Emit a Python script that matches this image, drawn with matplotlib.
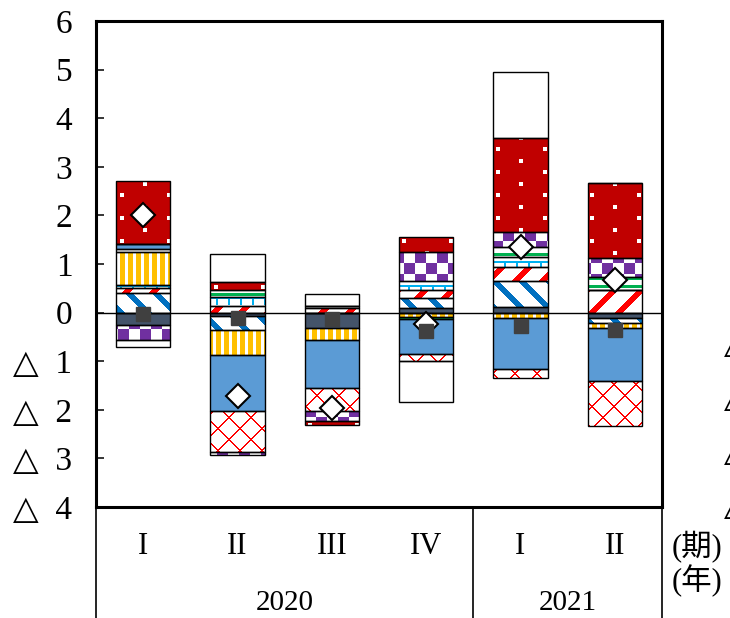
import numpy as np
import matplotlib
matplotlib.use('Agg')
import matplotlib.pyplot as plt
from matplotlib.colors import to_rgb
from matplotlib.path import Path

plt.rcParams['font.family'] = ['Liberation Serif', 'DejaVu Sans', 'Noto Sans CJK JP']

# quarters / years
quarters = ['I', 'II', 'III', 'IV', 'I', 'II']
years = ['2020', '2021']
year_centers = [1.5, 4.5]

# contributions (stack order from the zero line outwards)
slate = [-0.25, -0.06, -0.31, 0.10, 0.11, -0.11]
blue_diag = [0.40, -0.29, 0.00, 0.20, 0.53, -0.11]
red_diag = [0.10, 0.14, 0.10, 0.17, 0.30, 0.47]
cyan_grid = [0.07, 0.19, 0.04, 0.19, 0.20, 0.00]
yellow = [0.67, -0.53, -0.25, -0.09, -0.12, -0.09]
green = [0.07, 0.14, 0.00, -0.05, 0.21, 0.27]
blue = [0.11, -1.15, -0.99, -0.72, -1.04, -1.09]
red_lattice = [0.00, -0.84, -0.47, -0.14, -0.19, -0.94]
purple = [-0.32, -0.07, -0.22, 0.58, 0.31, 0.39]
dark_red = [1.29, 0.15, -0.08, 0.32, 1.94, 1.53]
other = [-0.13, 0.58, 0.24, -0.83, 1.35, 0.00]

total = [2.00, -1.72, -1.96, -0.23, 1.36, 0.67]
core = [-0.03, -0.11, -0.14, -0.38, -0.27, -0.36]

yticks = [-4, -3, -2, -1, 0, 1, 2, 3, 4, 5, 6]
ytick_labels = ['△  4', '△  3', '△  2', '△  1', '0', '1', '2', '3', '4', '5', '6']

fig = plt.figure(figsize=(7.3, 6.18), dpi=100)
ax = fig.add_axes([96 / 730, 111 / 618, 566 / 730, 486 / 618])
ax.set_xlim(-0.5, 5.5)
ax.set_ylim(-4, 6)

bb = ax.get_window_extent()
W, H = int(round(bb.width)), int(round(bb.height))
xx, yy = np.meshgrid(np.arange(W), np.arange(H))


def texture(mask, fg, bg='white'):
    img = np.empty((H, W, 3))
    img[:] = to_rgb(bg)
    img[mask] = to_rgb(fg)
    return img


none = np.zeros((H, W), dtype=bool)
dots = ((((xx % 47) < 4) & ((yy % 23) < 4))
        | ((((xx + 23) % 47) < 4) & (((yy + 12) % 23) < 4)))

series = [
    (slate, texture(none, 'white', '#44546A')),
    (blue_diag, texture(((xx - yy) % 27) < 8, '#0070C0')),
    (red_diag, texture(((xx + yy) % 27) < 8, '#FF0000')),
    (cyan_grid, texture(((yy % 12) < 2) | (((xx % 12) < 2) & ((yy % 12) < 8)), '#00B0F0')),
    (yellow, texture((xx % 8) < 5, '#FFC000')),
    (green, texture((yy % 8) < 3, '#00B050')),
    (blue, texture(none, 'white', '#5B9BD5')),
    (red_lattice, texture((((xx + yy) % 22) < 2) | (((xx - yy) % 22) < 2), '#FF0000')),
    (purple, texture(((xx // 11 + yy // 11) % 2) == 0, '#7030A0')),
    (dark_red, texture(dots, 'white', '#C00000')),
    (other, texture(none, 'white')),
]

x = np.arange(len(quarters))
pos = np.zeros(len(x))
neg = np.zeros(len(x))
for vals, img in series:
    vals = np.array(vals)
    bottom = np.where(vals >= 0, pos, neg)
    bars = ax.bar(x, vals, bottom=bottom, width=0.5725, facecolor='none',
                  edgecolor='black', linewidth=1.0, zorder=3)
    pos = pos + np.clip(vals, 0, None)
    neg = neg + np.clip(vals, None, 0)
    paths = [b.get_patch_transform().transform_path(b.get_path()) for b in bars]
    im = ax.imshow(img, extent=(-0.5, 5.5, -4, 6), aspect='auto',
                   interpolation='nearest', zorder=2)
    im.set_clip_path(Path.make_compound_path(*paths), ax.transData)

ax.set_xlim(-0.5, 5.5)
ax.set_ylim(-4, 6)
ax.axhline(0, color='black', linewidth=1.0, zorder=3.5)

ax.plot(x, total, linestyle='none', marker='D', markersize=12,
        markerfacecolor='white', markeredgecolor='black', markeredgewidth=1.5, zorder=4)
ax.plot(x, core, linestyle='none', marker='s', markersize=10,
        markerfacecolor='#404040', markeredgecolor='#404040', zorder=5)

for s in ax.spines.values():
    s.set_linewidth(2.2)
ax.set_xticks([])
ax.set_yticks(yticks)
ax.set_yticklabels(ytick_labels)
ax.tick_params(axis='y', direction='in', length=6, width=1.1, pad=17, labelsize=24)

# category table under the plot
xt = ax.get_xaxis_transform()
for i, q in enumerate(quarters):
    ax.text(i, -0.082, q, transform=xt, ha='center', va='center', fontsize=22, clip_on=False)
for xc, yr in zip(year_centers, years):
    ax.text(xc, -0.198, yr, transform=xt, ha='center', va='center', fontsize=21, clip_on=False)
for xv in [-0.5, 3.5, 5.5]:
    ax.plot([xv, xv], [0, -0.3], transform=xt, color='black', linewidth=1.2, clip_on=False)

fig.text(697 / 730, 1 - 547 / 618, '(期)', ha='center', va='center', fontsize=22)
fig.text(697 / 730, 1 - 581 / 618, '(年)', ha='center', va='center', fontsize=22)

# secondary labels running off the right edge
for yp in [353, 407, 461, 515]:
    fig.text(724 / 730, 1 - yp / 618, '△', ha='left', va='baseline', fontsize=24)

fig.savefig('out.png', dpi=100)
